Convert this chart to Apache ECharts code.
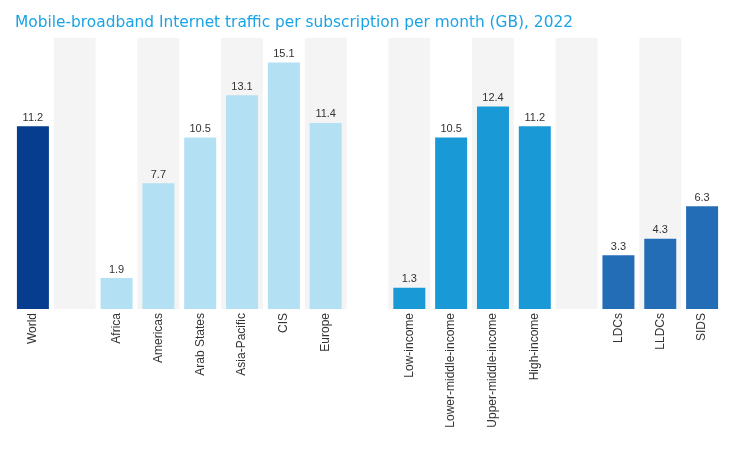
<!DOCTYPE html>
<html>
<head>
<meta charset="utf-8">
<script src="https://cdn.jsdelivr.net/npm/echarts@6/dist/echarts.min.js"></script>
<style>html,body{margin:0;padding:0;background:#fff}#c{width:736px;height:454px}</style>
</head>
<body>
<div id="c"></div>
<script>
const categories = ['World','','Africa','Americas','Arab States','Asia-Pacific','CIS','Europe','','Low-income','Lower-middle-income','Upper-middle-income','High-income','','LDCs','LLDCs','SIDS'];
const values = [11.2,null,1.9,7.7,10.5,13.1,15.1,11.4,null,1.3,10.5,12.4,11.2,null,3.3,4.3,6.3];
const groups = ['world','','region','region','region','region','region','region','','income','income','income','income','','dev','dev','dev'];
const groupColors = {world:'#063d8f', region:'#b3e0f3', income:'#199ad6', dev:'#236db6'};

const chart = echarts.init(document.getElementById('c'));
chart.setOption({
  animation:false,
  title:{text:'Mobile-broadband Internet traffic per subscription per month (GB), 2022',left:10,top:10,
    textStyle:{fontFamily:'DejaVu Sans',fontSize:15.4,fontWeight:'normal',color:'#1aa3e6'}},
  grid:{left:12,right:13,top:38,bottom:145,containLabel:false},
  xAxis:{type:'category',data:categories,
    axisLine:{show:false},axisTick:{show:false},
    axisLabel:{rotate:90,interval:0,fontFamily:'Liberation Sans',fontSize:12,color:'#333',margin:4},
    splitArea:{show:true,areaStyle:{color:['rgba(255,255,255,0)','#f4f4f4']}}},
  yAxis:{type:'value',min:0,max:16.6,show:false,splitLine:{show:false}},
  series:[{type:'bar',barWidth:32,
    data:values.map((v,i)=>({value:v,itemStyle:{color:groupColors[groups[i]]||'#fff'}})),
    label:{show:true,position:'top',distance:3,fontFamily:'Liberation Sans',fontSize:11,color:'#333'}}]
});
</script>
</body>
</html>
